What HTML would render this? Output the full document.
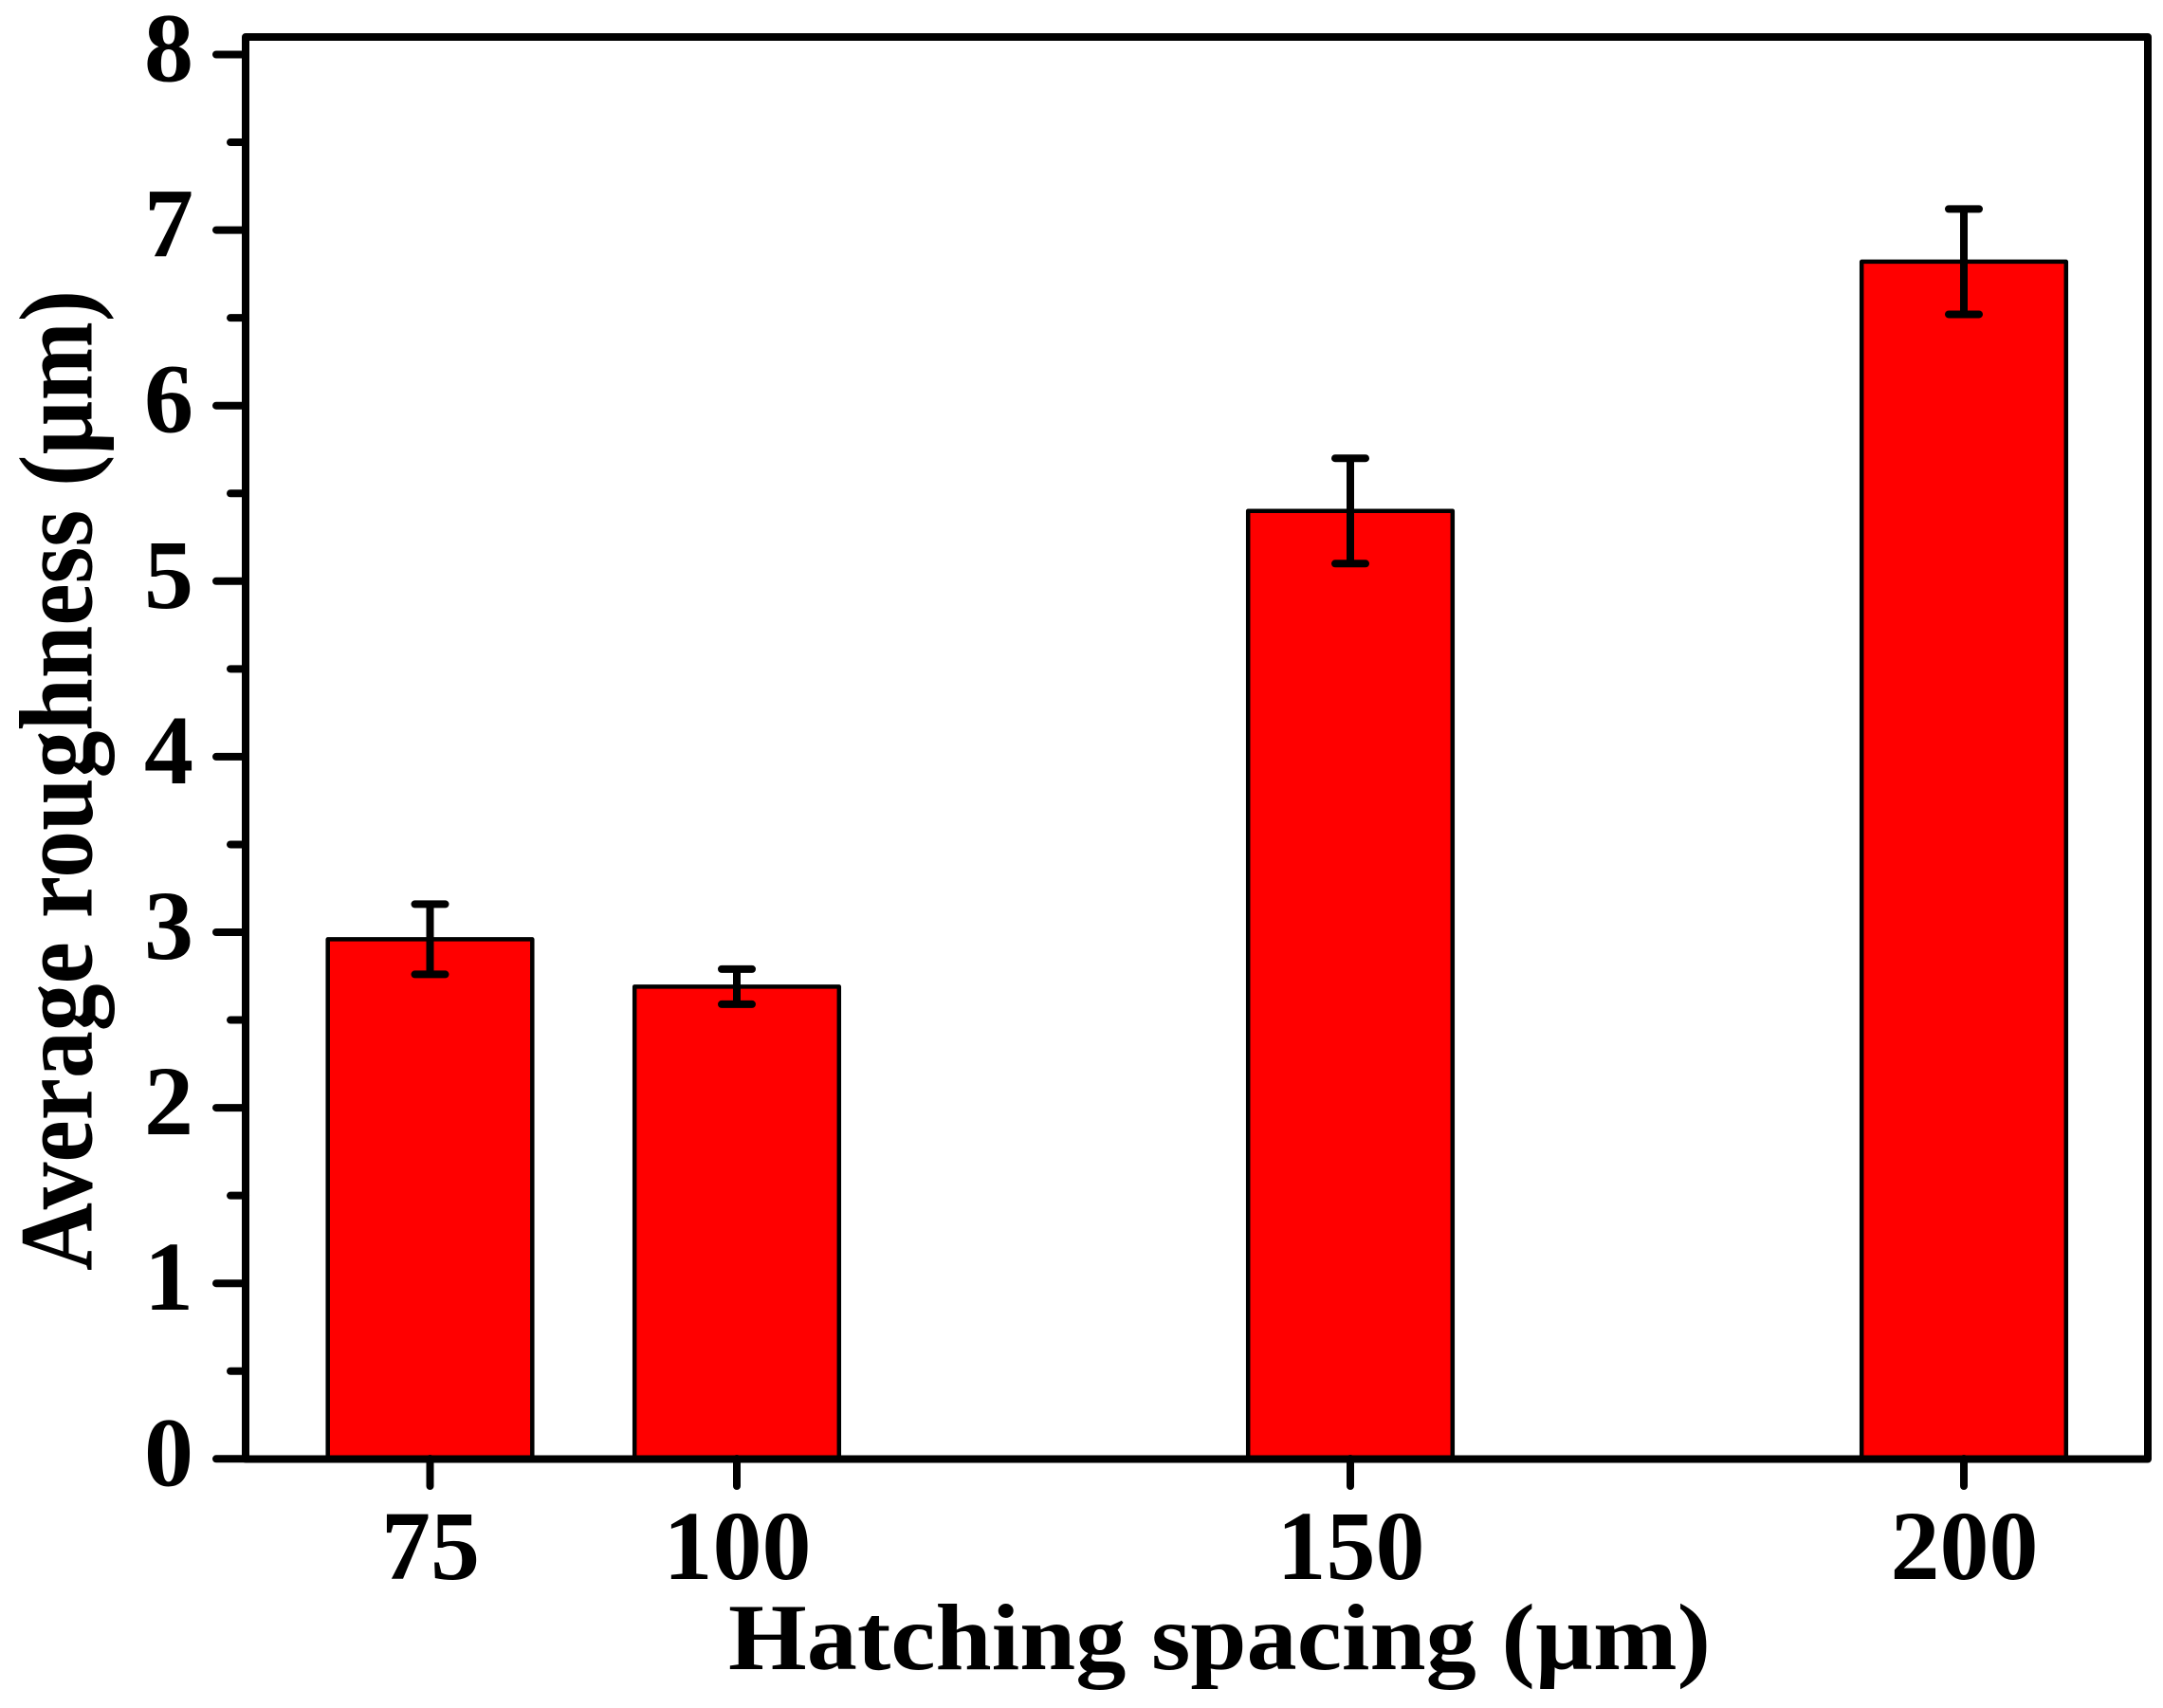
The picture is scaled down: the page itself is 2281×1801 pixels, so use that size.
<!DOCTYPE html>
<html>
<head>
<meta charset="utf-8">
<title>Average roughness vs hatching spacing</title>
<style>
html,body{margin:0;padding:0;background:#fff;}
svg{display:block;}
text{font-family:"Liberation Serif",serif;font-weight:bold;fill:#000;}
</style>
</head>
<body>
<svg id="chart" xmlns="http://www.w3.org/2000/svg" width="2281" height="1801" viewBox="0 0 2281 1801">
  <rect x="0" y="0" width="2281" height="1801" fill="#fff"/>
  <g id="bars"></g>
  <g id="errors"></g>
  <g id="yticks"></g>
  <g id="xticks"></g>
  <rect x="259" y="39" width="2006" height="1499.5" fill="none" stroke="#000" stroke-width="8" stroke-linejoin="round"/>
  <text x="768" y="1760" font-size="100" textLength="1036" lengthAdjust="spacingAndGlyphs">Hatching spacing (µm)</text>
  <text transform="translate(96.7 1340) rotate(-90)" x="0" y="0" font-size="110" textLength="1034" lengthAdjust="spacingAndGlyphs">Average roughness (µm)</text>
</svg>
<script>
const categories = [75, 100, 150, 200];
const roughnessValues = [2.96, 2.69, 5.40, 6.82];
const errorUpper = [3.16, 2.79, 5.70, 7.12];
const errorLower = [2.76, 2.59, 5.10, 6.52];
const yMajorTicks = [0, 1, 2, 3, 4, 5, 6, 7, 8];
const yMinorTicks = [0.5, 1.5, 2.5, 3.5, 4.5, 5.5, 6.5, 7.5];

const NS = 'http://www.w3.org/2000/svg';
function xScale(v) { return 453.5 + (v - 75) * (2071 - 453.5) / 125; }
function yScale(v) { return 1538.3 - v * 185.1; }
function svgEl(tag, attrs, parent) {
  const el = document.createElementNS(NS, tag);
  for (const k in attrs) el.setAttribute(k, attrs[k]);
  parent.appendChild(el);
  return el;
}
const barsG = document.getElementById('bars');
const errorsG = document.getElementById('errors');
const yG = document.getElementById('yticks');
const xG = document.getElementById('xticks');
const barOuterStroke = 4.5;
const barHalf = 107.8;
const capHalf = 16;

categories.forEach(function (c, i) {
  const cx = xScale(c);
  const top = yScale(roughnessValues[i]);
  const bar = svgEl('rect', {x: cx - barHalf, y: top, width: barHalf * 2, height: yScale(0) - top, fill: '#ff0000', stroke: '#000', 'stroke-width': barOuterStroke, 'stroke-linejoin': 'round'}, barsG);
  
  

  const yU = yScale(errorUpper[i]);
  const yL = yScale(errorLower[i]);
  const stem = svgEl('line', {x1: cx, x2: cx, y1: yU, y2: yL, stroke: '#000', 'stroke-width': 8}, errorsG);
  
  
  const capU = svgEl('line', {x1: cx - capHalf, x2: cx + capHalf, y1: yU, y2: yU, stroke: '#000', 'stroke-width': 8, 'stroke-linecap': 'round'}, errorsG);
  
  
  const capL = svgEl('line', {x1: cx - capHalf, x2: cx + capHalf, y1: yL, y2: yL, stroke: '#000', 'stroke-width': 8, 'stroke-linecap': 'round'}, errorsG);
  
  

  const tick = svgEl('line', {x1: cx, x2: cx, y1: 1538, y2: 1567, stroke: '#000', 'stroke-width': 8, 'stroke-linecap': 'round'}, xG);
  
  
  const label = svgEl('text', {x: cx + 0.5, y: 1665, 'font-size': 104, 'text-anchor': 'middle'}, xG);
  
  
  label.textContent = String(c);
});

yMajorTicks.forEach(function (v) {
  const y = yScale(v);
  const tick = svgEl('line', {x1: 228, x2: 259, y1: y, y2: y, stroke: '#000', 'stroke-width': 8, 'stroke-linecap': 'round'}, yG);
  
  
  const label = svgEl('text', {x: 204, y: y + 28, 'font-size': 104, 'text-anchor': 'end'}, yG);
  
  
  label.textContent = String(v);
});

yMinorTicks.forEach(function (v) {
  const y = yScale(v);
  const tick = svgEl('line', {x1: 243, x2: 259, y1: y, y2: y, stroke: '#000', 'stroke-width': 8, 'stroke-linecap': 'round'}, yG);
  
  
});
</script>
</body>
</html>
